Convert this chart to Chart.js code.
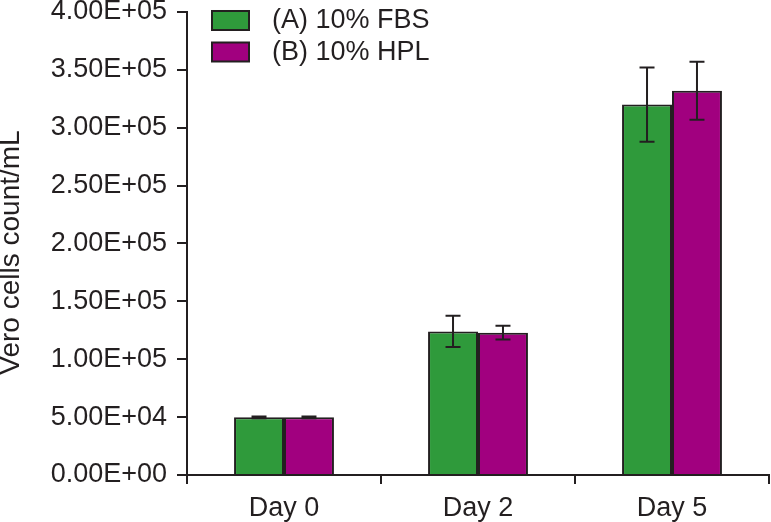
<!DOCTYPE html>
<html>
<head>
<meta charset="utf-8">
<script src="https://cdn.jsdelivr.net/npm/chart.js@4.4.1/dist/chart.umd.min.js"></script>
<style>
  html, body { margin: 0; padding: 0; background: #fff; }
  canvas { display: block; }
</style>
</head>
<body>
<canvas id="c" width="771" height="522"></canvas>
<script>
// data
const days = ['Day 0', 'Day 2', 'Day 5'];
const seriesNames = ['(A) 10% FBS', '(B) 10% HPL'];
const fbsMean = [49800, 124000, 320000];
const fbsErr = [800, 13500, 32000];
const hplMean = [49800, 123000, 332000];
const hplErr = [800, 6000, 25000];
const yTicks = [0, 50000, 100000, 150000, 200000, 250000, 300000, 350000, 400000];
const yTitle = 'Vero cells count/mL';

const ink = '#231f20';
const FONT = '"Liberation Sans", Arial, sans-serif';

function sci(v) {
    if (v === 0) return '0.00E+00';
    const e = Math.floor(Math.log10(v));
    const m = v / Math.pow(10, e);
    return m.toFixed(2) + 'E+' + String(e).padStart(2, '0');
}

// error bars drawn through the y scale
const errorBars = {
    id: 'errorBars',
    afterDatasetsDraw(chart) {
        const ctx = chart.ctx;
        const y = chart.scales.y;
        chart.data.datasets.forEach((ds, i) => {
            const meta = chart.getDatasetMeta(i);
            meta.data.forEach((bar, j) => {
                const v = ds.data[j], e = ds.errors[j];
                const top = y.getPixelForValue(v + e);
                const bot = y.getPixelForValue(v - e);
                ctx.save();
                ctx.strokeStyle = ink;
                ctx.lineWidth = 2;
                ctx.beginPath();
                ctx.moveTo(bar.x, top); ctx.lineTo(bar.x, bot);
                ctx.moveTo(bar.x - 7.5, top); ctx.lineTo(bar.x + 7.5, top);
                ctx.moveTo(bar.x - 7.5, bot); ctx.lineTo(bar.x + 7.5, bot);
                ctx.stroke();
                ctx.restore();
            });
        });
    }
};

// legend in the top-left of the plot area, plus the rotated y title
const boxLegend = {
    id: 'boxLegend',
    afterDraw(chart) {
        const ctx = chart.ctx;
        const a = chart.chartArea;
        chart.data.datasets.forEach((ds, i) => {
            const bx = a.left + 25, by = a.top - 1 + i * 31.5;
            ctx.save();
            ctx.fillStyle = ds.backgroundColor;
            ctx.fillRect(bx, by, 37, 19);
            ctx.strokeStyle = ink;
            ctx.lineWidth = 2;
            ctx.strokeRect(bx, by, 37, 19);
            ctx.fillStyle = ink;
            ctx.font = '27px ' + FONT;
            ctx.textBaseline = 'middle';
            ctx.fillText(ds.label, bx + 60, by + 10);
            ctx.restore();
        });
        ctx.save();
        ctx.translate(19, (a.top + a.bottom) / 2 + 9);
        ctx.rotate(-Math.PI / 2);
        ctx.font = '28px ' + FONT;
        ctx.fillStyle = ink;
        ctx.textAlign = 'center';
        ctx.textBaseline = 'alphabetic';
        ctx.fillText(yTitle, 0, 0);
        ctx.restore();
    }
};

new Chart(document.getElementById('c'), {
    type: 'bar',
    data: {
        labels: days,
        datasets: [{
            label: seriesNames[0],
            data: fbsMean,
            errors: fbsErr,
            backgroundColor: '#2f9a3b',
            borderColor: ink,
            borderWidth: 2
        }, {
            label: seriesNames[1],
            data: hplMean,
            errors: hplErr,
            backgroundColor: '#a1007f',
            borderColor: ink,
            borderWidth: 2
        }]
    },
    options: {
        responsive: false,
        animation: false,
        layout: { padding: { top: 0, right: 2, left: 0, bottom: 0 } },
        datasets: { bar: { categoryPercentage: 0.515, barPercentage: 1 } },
        plugins: { legend: { display: false }, tooltip: { enabled: false } },
        scales: {
            x: {
                grid: { offset: true, drawOnChartArea: false, tickLength: 9, color: ink, lineWidth: 2 },
                border: { display: true, color: ink, width: 2 },
                ticks: { color: ink, font: { family: FONT, size: 27 }, padding: 8 },
                afterFit(s) { s.height = 47; }
            },
            y: {
                min: 0,
                max: 400000,
                afterBuildTicks(s) { s.ticks = yTicks.map(v => ({ value: v })); },
                grid: { drawOnChartArea: false, tickLength: 10, color: ink, lineWidth: 2 },
                border: { display: true, color: ink, width: 2 },
                ticks: {
                    color: ink, padding: 10,
                    // small lineHeight keeps the top tick at y = 12
                    font: { family: FONT, size: 27, lineHeight: 0.148 },
                    callback: v => sci(v)
                },
                afterFit(s) { s.width = 187; }
            }
        }
    },
    plugins: [errorBars, boxLegend]
});
</script>
</body>
</html>
